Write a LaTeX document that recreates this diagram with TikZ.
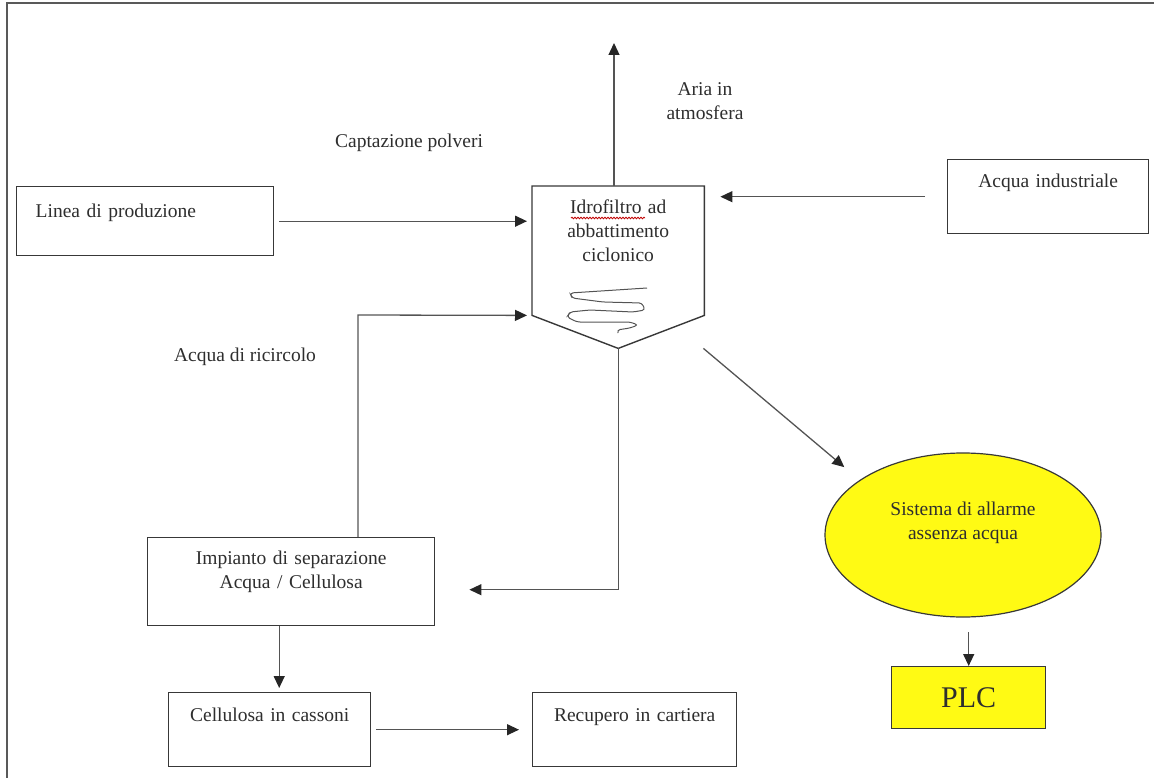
\documentclass[tikz,border=0pt]{standalone}
\usepackage{fontspec}
\setmainfont{Liberation Serif}
\usetikzlibrary{arrows.meta,shapes.geometric,calc,decorations.pathmorphing}
\definecolor{linegray}{gray}{0.33}
\definecolor{boxgray}{gray}{0.22}
\definecolor{alarmyellow}{RGB}{255,250,20}
\begin{document}
\begin{tikzpicture}[x=1pt,y=-1pt,
  every node/.style={font=\fontsize{19.5}{23.5}\selectfont, text=black!82, inner sep=0pt},
  box/.style={draw=boxgray, line width=1.4pt, rectangle, anchor=north west, align=center},
  flow/.style={draw=linegray, line width=1.3pt, -{Triangle[length=12pt,width=11pt,color=black!85]}}]
\useasboundingbox (0,0) rectangle (1154,778);
% page frame (top and left edges)
\draw[gray!70!black, line width=2pt] (7,778) -- (7,3) -- (1154,3);

% process boxes
\node[box, minimum width=257pt, text width=219pt, align=left, text height=31pt, text depth=38pt] (linea) at (16,186) {Linea di produzione};
\node[box, minimum width=201pt, text width=201pt, text height=28pt, text depth=46pt] (acqua) at (947,159) {Acqua industriale};
\node[rectangle, anchor=north west, minimum width=172pt, text width=172pt, align=center, text height=27pt, text depth=102pt, font=\fontsize{19.5}{24}\selectfont] (idro) at (532,186) {Idrofiltro ad\\abbattimento\\ciclonico};
\node[box, minimum width=287pt, text width=287pt, text height=27pt, text depth=61pt] (imp) at (147,537) {Impianto di separazione\\Acqua / Cellulosa};
\node[box, minimum width=202pt, text width=202pt, text height=29pt, text depth=45pt] (cell) at (168,692) {Cellulosa in cassoni};
\node[box, minimum width=204pt, text width=204pt, text height=29pt, text depth=45pt] (rec) at (532,692) {Recupero in cartiera};
\node[ellipse, draw=boxgray, line width=1.2pt, fill=alarmyellow, minimum width=276pt, minimum height=164pt, align=center, text height=42pt, text depth=34pt] (alarm) at (963,535) {Sistema di allarme\\assenza acqua};
\node[rectangle, draw=boxgray, line width=1.4pt, fill=alarmyellow, anchor=north west, minimum width=154pt, minimum height=62pt, font=\fontsize{30}{34}\selectfont] (plc) at (891,666) {PLC};

% hydrofilter body with cyclone cone
\coordinate (cone) at ($(idro.south)+(0,33)$);
\draw[boxgray, line width=1.4pt] (idro.north west) -- (idro.north east) -- (idro.south east) -- (cone) -- (idro.south west) -- cycle;
\draw[linegray, line width=1pt, rounded corners=3pt] (647,288) -- (570,293) -- (572,298) -- (603,302) -- (642,303) -- (645,310) -- (633,312) -- (590,310) -- (570,312) -- (567,317) -- (577,322) -- (630,322) -- (638,325) -- (630,328) -- (617,330) -- (618,333);
\draw[red!75!black, line width=0.8pt, decorate, decoration={snake, amplitude=0.8pt, segment length=3pt}] (571,218) -- (645,218);

% free labels
\node (captazione) at (409,143) {Captazione polveri};
\node[align=center] (aria) at (705,101) {Aria in\\atmosfera};
\node (ricircolo) at (245,357) {Acqua di ricircolo};

% flows
\coordinate (sky) at (614,43);
\coordinate (rtop) at (358,315);
\draw[flow] ([xshift=5pt]linea.east) -- ([xshift=-5pt]idro.west |- linea.east);
\draw[flow] ([xshift=-22pt]acqua.west) -- ([xshift=16pt]idro.east |- acqua.west);
\draw[flow] (sky |- idro.north) -- (sky);
\draw[flow] (imp.north -| rtop) -- (rtop) -- ([xshift=-5pt]idro.south west);
\draw[flow] (cone) |- ($(imp.east)+(34,8)$);
\draw[flow] ($(imp.south)+(-12,0)$) -- ($(cell.north -| imp.south)+(-12,-4)$);
\draw[flow] ([xshift=5pt]cell.east) -- ([xshift=-13pt]rec.west);
\draw[flow, shorten >=20pt] ($(idro.south east)+(-1,33)$) -- (alarm.152);
\draw[flow] ($(plc.north)+(0,-34)$) -- (plc.north);
\end{tikzpicture}
\end{document}
